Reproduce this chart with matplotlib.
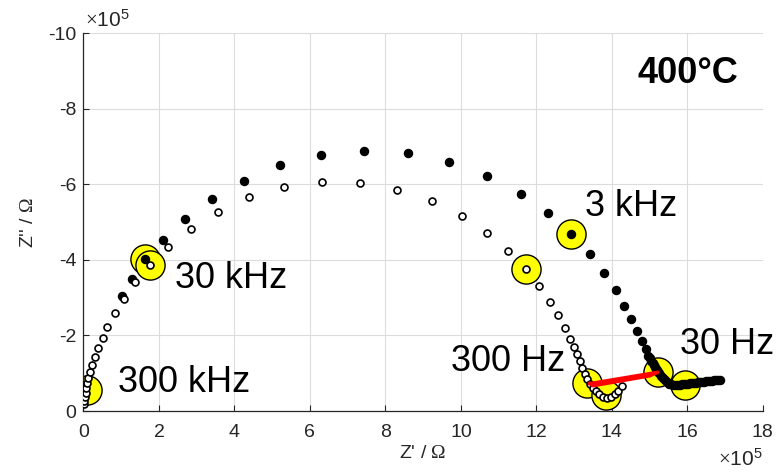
import matplotlib
matplotlib.use("Agg")
import matplotlib.pyplot as plt

plt.rcParams["font.family"] = ["Liberation Sans", "DejaVu Sans"]
plt.rcParams["mathtext.fontset"] = "custom"
plt.rcParams["mathtext.rm"] = "Liberation Serif"
plt.rcParams["mathtext.sf"] = "Liberation Sans"

# impedance in units of 1e5 Ohm
z_re_filled = [1.012, 1.276, 1.629, 2.114, 2.697, 3.404, 4.244, 5.205, 6.300, 7.438,
               8.588, 9.690, 10.70, 11.58, 12.32, 12.93, 13.42, 13.79, 14.10, 14.33,
               14.51, 14.67, 14.79, 14.90, 14.97, 15.01, 15.05, 15.08, 15.11, 15.14,
               15.17, 15.20, 15.22, 15.25, 15.30, 15.35, 15.40, 15.46, 15.51, 15.56,
               15.62, 15.70, 15.75, 15.80, 15.86, 15.91, 15.96, 16.01, 16.07, 16.12,
               16.17, 16.22, 16.28, 16.33, 16.38, 16.44, 16.49, 16.54, 16.59, 16.65,
               16.70, 16.75, 16.81, 16.86]
z_im_filled = [-3.042, -3.492, -4.021, -4.524, -5.071, -5.601, -6.093, -6.500, -6.772, -6.878,
               -6.817, -6.579, -6.217, -5.749, -5.230, -4.683, -4.146, -3.643, -3.201, -2.791,
               -2.434, -2.130, -1.860, -1.640, -1.463, -1.400, -1.336, -1.275, -1.217, -1.170,
               -1.124, -1.078, -1.032, -1.011, -0.939, -0.873, -0.820, -0.767, -0.728, -0.706,
               -0.693, -0.688, -0.693, -0.701, -0.706, -0.714, -0.720, -0.728, -0.735, -0.741,
               -0.746, -0.754, -0.762, -0.767, -0.772, -0.780, -0.788, -0.794, -0.799, -0.807,
               -0.815, -0.820, -0.825, -0.833]

z_re_open = [0.013, 0.021, 0.040, 0.058, 0.074, 0.101, 0.127, 0.172, 0.233, 0.305,
             0.392, 0.509, 0.630, 0.834, 1.065, 1.364, 1.762, 2.246, 2.848, 3.555,
             4.392, 5.319, 6.318, 7.325, 8.313, 9.224, 10.02, 10.70, 11.26, 11.72,
             12.07, 12.36, 12.58, 12.75, 12.89, 13.00, 13.08, 13.15, 13.22, 13.28,
             13.35, 13.42, 13.50, 13.58, 13.67, 13.76, 13.87, 13.97, 14.08, 14.17, 14.27]
z_im_open = [-0.177, -0.272, -0.378, -0.484, -0.616, -0.749, -0.881, -1.032, -1.209, -1.421,
             -1.659, -1.923, -2.230, -2.585, -2.971, -3.405, -3.862, -4.347, -4.823, -5.272,
             -5.653, -5.918, -6.050, -6.032, -5.854, -5.556, -5.159, -4.701, -4.233, -3.757,
             -3.307, -2.892, -2.532, -2.209, -1.918, -1.685, -1.500, -1.323, -1.146, -0.979,
             -0.847, -0.728, -0.622, -0.529, -0.450, -0.384, -0.357, -0.384, -0.450, -0.542, -0.661]

# marked frequencies
mark_re = [0.085, 1.629, 1.762, 12.93, 11.72, 13.33, 13.84, 15.21, 15.94]
mark_im = [-0.556, -4.021, -3.862, -4.683, -3.757, -0.733, -0.423, -1.040, -0.688]

# red connector between the low-frequency ends
link_re = [13.42, 15.22, 15.00, 13.50, 13.42]
link_im = [-0.73, -1.03, -0.93, -0.67, -0.73]

freq_labels = ["300 kHz", "30 kHz", "3 kHz", "300 Hz", "30 Hz"]
freq_label_re = [0.91, 2.42, 13.28, 9.74, 15.80]
freq_label_im = [-0.77, -3.52, -5.40, -1.30, -1.75]

fig = plt.figure(figsize=(7.8, 4.72), dpi=100)
ax = fig.add_axes([0.107, 0.129, 0.871, 0.801])

gray = "#262626"

ax.plot(mark_re, mark_im, "o", ms=21, mfc="#ffff00", mec="black", mew=1.0, zorder=2)
ax.plot(z_re_filled, z_im_filled, "o", ms=5.8, mfc="black", mec="black", zorder=3)
ax.plot(z_re_open, z_im_open, "o", ms=5, mfc="white", mec="black", mew=1.2, zorder=4)
ax.plot(link_re, link_im, "-", color="red", lw=2.4, zorder=5)

for lab, xr, yi in zip(freq_labels, freq_label_re, freq_label_im):
    ax.text(xr, yi, lab, fontsize=26, ha="left", va="center", color="black", zorder=6)
ax.text(16.01, -8.94, "400°C", fontsize=26, fontweight="bold", ha="center", va="center")

ax.set_xlim(0, 18)
ax.set_ylim(0, -10)
ax.set_xticks(range(0, 19, 2))
ax.set_yticks([0, -2, -4, -6, -8, -10])
ax.set_yticklabels(["0", "-2", "-4", "-6", "-8", "-10"])
ax.grid(True, color="#dcdcdc", lw=0.8)
ax.set_axisbelow(True)
ax.tick_params(direction="in", length=4, width=0.8, colors=gray, labelsize=14, pad=5)
ax.tick_params(axis="x", pad=9)
for side in ["top", "right"]:
    ax.spines[side].set_visible(False)
for side in ["left", "bottom"]:
    ax.spines[side].set_color(gray)
    ax.spines[side].set_linewidth(0.9)

ax.set_xlabel("Z' / $\\Omega$", fontsize=14, color=gray, labelpad=3)
ax.set_ylabel("Z'' / $\\Omega$", fontsize=14, color=gray, labelpad=8)

fig.text(85 / 780, 1 - 27 / 472, "$\\times\\mathsf{10^{5}}$", fontsize=15, color=gray,
         ha="left", va="baseline")
fig.text(763 / 780, 1 - 466 / 472, "$\\times\\mathsf{10^{5}}$", fontsize=15, color=gray,
         ha="right", va="baseline")

fig.savefig("out.png", dpi=100)
